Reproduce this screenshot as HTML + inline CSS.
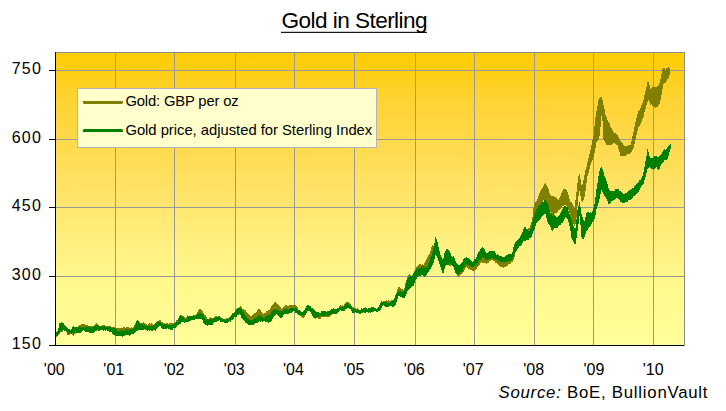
<!DOCTYPE html>
<html><head><meta charset="utf-8"><style>
html,body{margin:0;padding:0;background:#fff;width:726px;height:411px;overflow:hidden}
svg{display:block}
text{font-family:'Liberation Sans', Arial, sans-serif;fill:#000}
</style></head><body>
<svg width="726" height="411" viewBox="0 0 726 411">
<defs>
<linearGradient id="bg" x1="0" y1="0" x2="0" y2="1">
<stop offset="0" stop-color="#FFCC00"/>
<stop offset="0.164" stop-color="#FFD333"/>
<stop offset="0.334" stop-color="#FFDB50"/>
<stop offset="0.5" stop-color="#FFE56C"/>
<stop offset="0.67" stop-color="#FFF182"/>
<stop offset="0.795" stop-color="#FFF98D"/>
<stop offset="1" stop-color="#FFFF99"/>
</linearGradient>
<clipPath id="pc"><rect x="56" y="52" width="628" height="293"/></clipPath>
</defs>
<text x="354.6" y="27.6" text-anchor="middle" font-size="22.6" textLength="146" lengthAdjust="spacing">Gold in Sterling</text>
<rect x="281" y="31.8" width="146" height="1.1" fill="#000"/>
<rect x="55" y="52" width="630" height="293" fill="url(#bg)"/>
<g stroke="#999999" stroke-width="1" shape-rendering="crispEdges"><line x1="115.5" y1="52" x2="115.5" y2="345" /><line x1="174.5" y1="52" x2="174.5" y2="345" /><line x1="235.5" y1="52" x2="235.5" y2="345" /><line x1="294.5" y1="52" x2="294.5" y2="345" /><line x1="354.5" y1="52" x2="354.5" y2="345" /><line x1="415.5" y1="52" x2="415.5" y2="345" /><line x1="474.5" y1="52" x2="474.5" y2="345" /><line x1="534.5" y1="52" x2="534.5" y2="345" /><line x1="593.5" y1="52" x2="593.5" y2="345" /><line x1="653.5" y1="52" x2="653.5" y2="345" /><line x1="55" y1="70.5" x2="684" y2="70.5" /><line x1="55" y1="139.5" x2="684" y2="139.5" /><line x1="55" y1="207.5" x2="684" y2="207.5" /><line x1="55" y1="276.5" x2="684" y2="276.5" /></g>
<rect x="55.5" y="52.5" width="629" height="293" fill="none" stroke="#8c8c8c" stroke-width="1" shape-rendering="crispEdges"/>
<g clip-path="url(#pc)">
<polygon points="55.6,334.4 56.6,333.6 57.6,332.3 58.6,331.7 59.6,327.1 60.6,323.4 61.6,329.0 62.6,327.9 63.6,326.6 64.6,326.7 65.6,328.6 66.6,330.1 67.6,330.8 68.6,332.0 69.6,330.7 70.6,331.2 71.6,331.6 72.6,330.6 73.6,330.4 74.6,330.6 75.6,329.6 76.6,329.5 77.6,327.9 78.6,326.0 79.6,324.8 80.6,324.6 81.6,323.6 82.6,323.8 83.6,324.2 84.6,324.1 85.6,325.0 86.6,325.3 87.6,325.0 88.6,325.8 89.6,325.9 90.6,325.6 91.6,325.5 92.6,326.2 93.6,325.8 94.6,325.2 95.6,323.8 96.6,323.1 97.6,323.8 98.6,324.7 99.6,326.0 100.6,325.9 101.6,325.7 102.6,325.1 103.6,325.0 104.6,325.5 105.6,325.8 106.6,325.6 107.6,326.6 108.6,325.8 109.6,326.1 110.6,326.1 111.6,326.7 112.6,326.9 113.6,327.2 114.6,327.5 115.6,327.7 116.6,328.4 117.6,327.7 118.6,328.0 119.6,327.7 120.6,327.7 121.6,327.7 122.6,328.1 123.6,326.9 124.6,327.4 125.6,327.6 126.6,327.4 127.6,327.1 128.6,327.4 129.6,328.1 130.6,328.2 131.6,327.4 132.6,327.6 133.6,327.3 134.6,325.1 135.6,322.9 136.6,322.1 137.6,322.5 138.6,322.6 139.6,322.2 140.6,323.2 141.6,323.1 142.6,322.6 143.6,322.3 144.6,323.5 145.6,324.0 146.6,324.2 147.6,324.6 148.6,324.4 149.6,322.8 150.6,323.7 151.6,323.3 152.6,324.3 153.6,325.1 154.6,324.3 155.6,322.7 156.6,321.7 157.6,320.9 158.6,320.5 159.6,319.9 160.6,320.5 161.6,321.7 162.6,322.3 163.6,322.9 164.6,323.1 165.6,324.0 166.6,323.4 167.6,323.0 168.6,323.6 169.6,322.8 170.6,323.1 171.6,323.3 172.6,323.4 173.6,323.4 174.6,322.6 175.6,321.6 176.6,320.3 177.6,320.2 178.6,318.3 179.6,316.4 180.6,315.5 181.6,315.3 182.6,316.2 183.6,316.5 184.6,316.7 185.6,318.0 186.6,316.7 187.6,315.3 188.6,315.7 189.6,316.1 190.6,315.8 191.6,315.6 192.6,315.5 193.6,315.6 194.6,315.2 195.6,315.3 196.6,313.9 197.6,311.6 198.6,309.9 199.6,308.6 200.6,309.0 201.6,310.1 202.6,311.2 203.6,313.7 204.6,314.8 205.6,315.4 206.6,317.2 207.6,318.8 208.6,318.6 209.6,317.7 210.6,317.3 211.6,317.6 212.6,318.3 213.6,317.9 214.6,316.4 215.6,315.9 216.6,316.5 217.6,316.5 218.6,315.8 219.6,316.2 220.6,317.2 221.6,318.1 222.6,318.3 223.6,318.6 224.6,319.1 225.6,318.6 226.6,318.2 227.6,318.0 228.6,317.8 229.6,317.0 230.6,316.0 231.6,314.7 232.6,312.9 233.6,313.0 234.6,312.3 235.6,310.1 236.6,308.9 237.6,308.5 238.6,307.9 239.6,307.1 240.6,306.3 241.6,307.2 242.6,308.7 243.6,309.0 244.6,310.1 245.6,310.4 246.6,312.2 247.6,312.6 248.6,314.4 249.6,315.1 250.6,316.4 251.6,316.5 252.6,314.9 253.6,314.2 254.6,313.4 255.6,313.0 256.6,311.8 257.6,309.3 258.6,308.8 259.6,309.4 260.6,310.1 261.6,311.8 262.6,312.6 263.6,313.9 264.6,313.4 265.6,312.9 266.6,311.2 267.6,311.2 268.6,309.8 269.6,309.9 270.6,308.1 271.6,305.4 272.6,304.7 273.6,303.6 274.6,302.1 275.6,302.0 276.6,302.7 277.6,303.8 278.6,305.3 279.6,306.6 280.6,307.4 281.6,308.7 282.6,308.0 283.6,306.4 284.6,305.8 285.6,305.0 286.6,305.5 287.6,305.7 288.6,305.5 289.6,304.6 290.6,305.0 291.6,304.8 292.6,304.8 293.6,305.3 294.6,305.5 295.6,305.3 296.6,306.6 297.6,307.6 298.6,309.8 299.6,312.1 300.6,312.9 301.6,314.1 302.6,313.3 303.6,314.0 304.6,311.9 305.6,308.0 306.6,306.5 307.6,306.2 308.6,305.5 309.6,306.4 310.6,308.2 311.6,311.5 312.6,313.8 313.6,315.7 314.6,315.9 315.6,315.5 316.6,315.7 317.6,314.1 318.6,314.6 319.6,314.1 320.6,314.6 321.6,314.6 322.6,314.4 323.6,313.5 324.6,313.9 325.6,313.4 326.6,313.3 327.6,313.3 328.6,313.6 329.6,313.8 330.6,312.9 331.6,312.3 332.6,310.5 333.6,309.9 334.6,309.1 335.6,310.1 336.6,310.0 337.6,308.7 338.6,308.1 339.6,305.9 340.6,304.8 341.6,305.9 342.6,305.2 343.6,305.6 344.6,304.1 345.6,302.9 346.6,302.3 347.6,301.8 348.6,302.2 349.6,303.3 350.6,304.1 351.6,305.7 352.6,306.8 353.6,306.9 354.6,308.1 355.6,308.5 356.6,308.9 357.6,308.4 358.6,309.0 359.6,310.6 360.6,310.6 361.6,309.5 362.6,308.8 363.6,307.9 364.6,307.5 365.6,306.9 366.6,307.7 367.6,308.7 368.6,308.9 369.6,308.9 370.6,309.3 371.6,309.3 372.6,309.8 373.6,308.8 374.6,308.3 375.6,308.5 376.6,308.5 377.6,308.4 378.6,307.3 379.6,305.3 380.6,304.1 381.6,302.4 382.6,302.0 383.6,300.7 384.6,300.8 385.6,301.0 386.6,300.2 387.6,301.5 388.6,300.3 389.6,300.8 390.6,301.1 391.6,300.4 392.6,299.8 393.6,299.7 394.6,298.7 395.6,295.9 396.6,292.6 397.6,288.3 398.6,287.4 399.6,287.0 400.6,288.1 401.6,289.1 402.6,289.2 403.6,289.8 404.6,287.6 405.6,282.6 406.6,279.5 407.6,276.7 408.6,275.2 409.6,274.1 410.6,275.3 411.6,275.9 412.6,275.4 413.6,273.5 414.6,270.6 415.6,268.3 416.6,266.7 417.6,266.0 418.6,264.4 419.6,264.3 420.6,263.8 421.6,265.2 422.6,264.2 423.6,265.0 424.6,263.2 425.6,261.0 426.6,258.7 427.6,257.0 428.6,255.1 429.6,253.5 430.6,250.3 431.6,246.2 432.6,244.7 433.6,245.7 434.6,242.9 435.6,238.4 436.6,239.7 437.6,244.1 438.6,248.8 439.6,252.8 440.6,256.0 441.6,258.4 442.6,260.4 443.6,258.4 444.6,255.0 445.6,251.3 446.6,249.3 447.6,249.4 448.6,252.9 449.6,259.2 450.6,260.7 451.6,259.2 452.6,257.6 453.6,256.4 454.6,258.8 455.6,262.3 456.6,266.7 457.6,271.5 458.6,271.8 459.6,271.1 460.6,271.1 461.6,269.6 462.6,269.1 463.6,265.6 464.6,264.7 465.6,263.3 466.6,262.2 467.6,262.4 468.6,263.8 469.6,263.7 470.6,264.4 471.6,264.7 472.6,265.2 473.6,264.0 474.6,264.1 475.6,263.5 476.6,263.2 477.6,261.4 478.6,259.6 479.6,258.4 480.6,256.9 481.6,255.2 482.6,254.7 483.6,255.0 484.6,256.9 485.6,257.2 486.6,258.3 487.6,258.0 488.6,256.4 489.6,256.1 490.6,256.2 491.6,255.1 492.6,256.5 493.6,256.7 494.6,256.5 495.6,257.4 496.6,258.6 497.6,259.2 498.6,258.6 499.6,259.9 500.6,260.4 501.6,260.5 502.6,260.0 503.6,260.6 504.6,260.8 505.6,260.2 506.6,260.3 507.6,259.3 508.6,259.7 509.6,259.7 510.6,258.0 511.6,257.8 512.6,257.3 513.6,254.3 514.6,250.1 515.6,244.6 516.6,242.3 517.6,241.8 518.6,239.9 519.6,238.8 520.6,236.6 521.6,235.0 522.6,233.3 523.6,229.5 524.6,229.0 525.6,228.6 526.6,228.5 527.6,228.7 528.6,227.5 529.6,227.6 530.6,224.4 531.6,221.9 532.6,216.6 533.6,207.6 534.6,203.5 535.6,202.0 536.6,201.4 537.6,198.4 538.6,195.7 539.6,193.1 540.6,190.8 541.6,188.8 542.6,187.9 543.6,185.6 544.6,184.0 545.6,183.4 546.6,184.7 547.6,187.0 548.6,189.5 549.6,193.0 550.6,194.8 551.6,195.6 552.6,196.4 553.6,195.7 554.6,196.6 555.6,197.3 556.6,198.4 557.6,198.7 558.6,199.9 559.6,197.9 560.6,195.3 561.6,192.4 562.6,190.8 563.6,189.0 564.6,188.7 565.6,188.6 566.6,190.4 567.6,192.2 568.6,195.2 569.6,199.1 570.6,202.6 571.6,202.2 572.6,204.0 573.6,206.1 574.6,208.2 575.6,199.6 576.6,191.5 577.6,181.8 578.6,175.5 579.6,173.8 580.6,179.6 581.6,185.2 582.6,184.4 583.6,180.1 584.6,174.1 585.6,169.8 586.6,166.2 587.6,161.9 588.6,157.4 589.6,154.1 590.6,149.5 591.6,144.5 592.6,139.0 593.6,135.6 594.6,124.9 595.6,116.2 596.6,110.6 597.6,106.0 598.6,99.7 599.6,97.7 600.6,96.4 601.6,97.3 602.6,100.0 603.6,105.5 604.6,109.8 605.6,115.9 606.6,116.8 607.6,119.9 608.6,122.0 609.6,123.4 610.6,127.2 611.6,128.4 612.6,130.2 613.6,132.2 614.6,132.9 615.6,133.5 616.6,133.9 617.6,135.0 618.6,137.2 619.6,138.9 620.6,141.2 621.6,142.1 622.6,143.4 623.6,145.3 624.6,145.9 625.6,146.4 626.6,145.9 627.6,145.6 628.6,145.4 629.6,144.7 630.6,144.6 631.6,140.9 632.6,135.8 633.6,131.2 634.6,126.6 635.6,121.1 636.6,117.2 637.6,113.8 638.6,111.0 639.6,109.7 640.6,107.5 641.6,105.1 642.6,102.6 643.6,99.2 644.6,95.0 645.6,90.6 646.6,86.5 647.6,81.2 648.6,81.8 649.6,85.1 650.6,89.0 651.6,88.4 652.6,86.8 653.6,86.2 654.6,86.6 655.6,86.5 656.6,86.7 657.6,86.2 658.6,85.3 659.6,83.0 660.6,79.1 661.6,73.1 662.6,69.1 663.6,68.1 664.6,67.9 665.6,69.7 666.6,67.7 667.6,67.6 668.6,67.3 669.6,68.0 670.3,68.0 670.3,73.6 669.6,74.8 668.6,77.8 667.6,78.9 666.6,81.1 665.6,82.8 664.6,82.9 663.6,83.2 662.6,88.1 661.6,94.5 660.6,100.0 659.6,103.6 658.6,105.4 657.6,106.5 656.6,106.9 655.6,108.2 654.6,107.5 653.6,106.0 652.6,106.2 651.6,104.3 650.6,105.1 649.6,102.0 648.6,99.7 647.6,102.0 646.6,104.7 645.6,108.9 644.6,111.5 643.6,116.6 642.6,118.9 641.6,121.6 640.6,124.3 639.6,125.4 638.6,127.1 637.6,131.2 636.6,134.3 635.6,138.5 634.6,143.6 633.6,147.3 632.6,149.7 631.6,152.1 630.6,152.6 629.6,153.8 628.6,153.7 627.6,154.1 626.6,155.2 625.6,156.0 624.6,156.1 623.6,156.3 622.6,156.2 621.6,156.3 620.6,156.0 619.6,152.7 618.6,149.8 617.6,145.2 616.6,144.6 615.6,144.2 614.6,143.3 613.6,143.1 612.6,143.9 611.6,144.7 610.6,145.1 609.6,145.1 608.6,145.3 607.6,145.0 606.6,145.0 605.6,143.6 604.6,141.6 603.6,140.3 602.6,122.0 601.6,115.2 600.6,126.0 599.6,136.1 598.6,139.6 597.6,140.5 596.6,141.2 595.6,147.7 594.6,153.1 593.6,156.8 592.6,159.9 591.6,162.1 590.6,164.5 589.6,168.6 588.6,172.3 587.6,175.7 586.6,182.5 585.6,190.3 584.6,197.0 583.6,199.3 582.6,202.5 581.6,201.6 580.6,196.4 579.6,190.5 578.6,195.6 577.6,204.8 576.6,217.5 575.6,223.4 574.6,225.7 573.6,223.9 572.6,223.0 571.6,221.1 570.6,216.9 569.6,213.5 568.6,210.0 567.6,209.4 566.6,206.4 565.6,205.0 564.6,204.8 563.6,205.5 562.6,205.6 561.6,208.1 560.6,209.2 559.6,209.6 558.6,210.2 557.6,212.2 556.6,212.9 555.6,213.2 554.6,213.6 553.6,214.7 552.6,217.0 551.6,215.2 550.6,212.6 549.6,210.1 548.6,206.5 547.6,204.2 546.6,201.7 545.6,199.9 544.6,199.5 543.6,200.0 542.6,201.8 541.6,203.4 540.6,205.4 539.6,208.2 538.6,210.1 537.6,211.5 536.6,212.7 535.6,214.2 534.6,214.2 533.6,217.7 532.6,222.7 531.6,227.6 530.6,230.0 529.6,233.1 528.6,232.6 527.6,234.6 526.6,238.0 525.6,240.5 524.6,238.9 523.6,239.8 522.6,242.1 521.6,242.6 520.6,244.1 519.6,245.3 518.6,246.7 517.6,248.1 516.6,248.9 515.6,251.6 514.6,256.3 513.6,260.3 512.6,261.5 511.6,262.3 510.6,263.6 509.6,264.3 508.6,264.3 507.6,266.0 506.6,266.1 505.6,266.8 504.6,267.2 503.6,268.3 502.6,266.9 501.6,267.3 500.6,267.0 499.6,266.2 498.6,264.7 497.6,263.6 496.6,263.5 495.6,263.2 494.6,261.2 493.6,261.4 492.6,260.1 491.6,260.0 490.6,260.6 489.6,261.3 488.6,263.0 487.6,263.2 486.6,263.7 485.6,263.5 484.6,263.2 483.6,263.3 482.6,263.0 481.6,262.3 480.6,262.7 479.6,264.8 478.6,266.1 477.6,267.0 476.6,269.0 475.6,270.0 474.6,270.6 473.6,270.6 472.6,270.6 471.6,270.5 470.6,270.1 469.6,268.5 468.6,269.2 467.6,268.2 466.6,267.1 465.6,268.2 464.6,270.2 463.6,272.2 462.6,272.5 461.6,274.4 460.6,275.1 459.6,275.6 458.6,277.0 457.6,275.7 456.6,274.4 455.6,271.9 454.6,269.0 453.6,267.2 452.6,265.7 451.6,264.8 450.6,265.5 449.6,265.7 448.6,265.5 447.6,263.8 446.6,263.4 445.6,265.2 444.6,267.1 443.6,270.9 442.6,273.2 441.6,269.5 440.6,266.0 439.6,262.8 438.6,259.9 437.6,255.7 436.6,254.3 435.6,253.7 434.6,257.3 433.6,259.5 432.6,258.3 431.6,256.9 430.6,259.4 429.6,262.5 428.6,265.6 427.6,267.2 426.6,268.5 425.6,269.1 424.6,269.5 423.6,268.0 422.6,268.3 421.6,269.2 420.6,269.1 419.6,269.1 418.6,269.9 417.6,269.4 416.6,270.6 415.6,271.7 414.6,273.6 413.6,276.0 412.6,282.4 411.6,285.0 410.6,280.5 409.6,278.0 408.6,278.7 407.6,280.2 406.6,283.5 405.6,287.3 404.6,291.2 403.6,293.9 402.6,293.8 401.6,293.3 400.6,293.5 399.6,293.2 398.6,292.9 397.6,294.7 396.6,300.2 395.6,303.6 394.6,304.1 393.6,305.5 392.6,304.3 391.6,303.6 390.6,303.7 389.6,304.4 388.6,305.5 387.6,304.7 386.6,305.3 385.6,304.3 384.6,304.3 383.6,304.5 382.6,304.9 381.6,307.0 380.6,308.7 379.6,310.9 378.6,310.3 377.6,310.9 376.6,311.0 375.6,311.0 374.6,310.8 373.6,311.7 372.6,312.5 371.6,312.2 370.6,311.8 369.6,311.4 368.6,311.6 367.6,311.2 366.6,311.0 365.6,310.5 364.6,310.0 363.6,310.4 362.6,311.3 361.6,312.3 360.6,313.1 359.6,313.1 358.6,312.7 357.6,311.4 356.6,312.3 355.6,311.7 354.6,311.2 353.6,311.2 352.6,310.4 351.6,308.5 350.6,307.7 349.6,306.0 348.6,305.3 347.6,305.7 346.6,306.0 345.6,307.2 344.6,308.1 343.6,308.4 342.6,308.3 341.6,308.4 340.6,308.8 339.6,309.4 338.6,311.0 337.6,313.0 336.6,313.2 335.6,313.7 334.6,313.3 333.6,313.3 332.6,314.1 331.6,315.1 330.6,316.3 329.6,317.4 328.6,317.3 327.6,317.1 326.6,316.9 325.6,317.0 324.6,316.9 323.6,317.4 322.6,317.0 321.6,317.1 320.6,318.6 319.6,318.8 318.6,318.9 317.6,317.8 316.6,318.2 315.6,319.0 314.6,318.4 313.6,318.3 312.6,316.6 311.6,314.3 310.6,311.4 309.6,309.9 308.6,309.7 307.6,309.6 306.6,312.6 305.6,314.8 304.6,316.6 303.6,318.5 302.6,317.8 301.6,317.2 300.6,316.5 299.6,315.0 298.6,312.3 297.6,311.1 296.6,310.4 295.6,310.0 294.6,309.3 293.6,309.8 292.6,309.9 291.6,310.9 290.6,310.2 289.6,311.5 288.6,311.5 287.6,311.0 286.6,311.6 285.6,310.7 284.6,311.3 283.6,311.4 282.6,312.2 281.6,313.0 280.6,312.3 279.6,313.0 278.6,311.5 277.6,312.4 276.6,311.9 275.6,311.1 274.6,311.3 273.6,312.7 272.6,313.5 271.6,313.5 270.6,315.3 269.6,316.9 268.6,316.2 267.6,317.0 266.6,318.2 265.6,318.6 264.6,319.6 263.6,319.9 262.6,319.3 261.6,318.4 260.6,318.0 259.6,316.8 258.6,318.4 257.6,318.8 256.6,318.8 255.6,320.2 254.6,321.3 253.6,322.1 252.6,322.1 251.6,322.1 250.6,322.7 249.6,321.5 248.6,321.9 247.6,320.0 246.6,318.7 245.6,318.6 244.6,317.0 243.6,314.3 242.6,312.0 241.6,310.8 240.6,309.2 239.6,309.8 238.6,310.7 237.6,311.0 236.6,311.5 235.6,313.4 234.6,315.6 233.6,315.9 232.6,315.5 231.6,317.2 230.6,318.5 229.6,319.5 228.6,320.3 227.6,321.4 226.6,320.8 225.6,321.1 224.6,321.8 223.6,321.1 222.6,321.5 221.6,320.9 220.6,319.7 219.6,318.8 218.6,318.3 217.6,319.2 216.6,319.1 215.6,319.0 214.6,320.1 213.6,320.4 212.6,321.1 211.6,320.9 210.6,321.5 209.6,321.2 208.6,321.3 207.6,321.3 206.6,320.7 205.6,320.1 204.6,318.9 203.6,317.2 202.6,317.0 201.6,316.3 200.6,314.8 199.6,314.8 198.6,315.3 197.6,315.9 196.6,317.4 195.6,317.8 194.6,317.7 193.6,318.4 192.6,318.0 191.6,318.1 190.6,318.7 189.6,318.9 188.6,318.2 187.6,318.4 186.6,320.2 185.6,320.9 184.6,319.9 183.6,320.1 182.6,318.7 181.6,319.4 180.6,321.3 179.6,323.2 178.6,323.6 177.6,323.0 176.6,324.2 175.6,325.3 174.6,325.1 173.6,326.1 172.6,326.4 171.6,327.2 170.6,326.7 169.6,326.8 168.6,327.1 167.6,327.0 166.6,326.5 165.6,326.5 164.6,326.6 163.6,325.8 162.6,325.9 161.6,324.9 160.6,324.5 159.6,324.0 158.6,323.2 157.6,323.8 156.6,324.2 155.6,325.2 154.6,326.8 153.6,327.6 152.6,327.0 151.6,327.2 150.6,327.9 149.6,328.4 148.6,327.3 147.6,327.8 146.6,327.2 145.6,326.5 144.6,326.0 143.6,326.5 142.6,326.2 141.6,325.6 140.6,325.7 139.6,327.1 138.6,328.0 137.6,328.6 136.6,330.3 135.6,330.0 134.6,330.3 133.6,330.4 132.6,331.4 131.6,331.6 130.6,330.9 129.6,331.1 128.6,331.8 127.6,331.4 126.6,331.6 125.6,332.2 124.6,331.9 123.6,332.8 122.6,331.6 121.6,333.1 120.6,333.3 119.6,333.5 118.6,331.9 117.6,331.3 116.6,332.0 115.6,330.8 114.6,330.2 113.6,329.7 112.6,330.4 111.6,329.2 110.6,329.0 109.6,328.6 108.6,329.0 107.6,329.1 106.6,328.7 105.6,329.3 104.6,328.2 103.6,328.5 102.6,327.7 101.6,328.8 100.6,328.4 99.6,328.5 98.6,328.4 97.6,327.7 96.6,328.3 95.6,328.7 94.6,329.0 93.6,328.3 92.6,328.7 91.6,328.9 90.6,329.8 89.6,329.0 88.6,328.8 87.6,329.5 86.6,328.3 85.6,328.3 84.6,329.6 83.6,328.6 82.6,328.8 81.6,329.4 80.6,329.2 79.6,328.9 78.6,329.5 77.6,331.9 76.6,333.4 75.6,333.5 74.6,334.3 73.6,335.9 72.6,335.3 71.6,334.4 70.6,333.9 69.6,334.9 68.6,335.3 67.6,335.0 66.6,332.6 65.6,331.4 64.6,329.2 63.6,330.3 62.6,331.7 61.6,332.5 60.6,332.2 59.6,333.6 58.6,335.2 57.6,336.4 56.6,337.0 55.6,338.3" fill="#808000" shape-rendering="crispEdges"/>
<polygon points="55.6,332.0 56.6,331.7 57.6,330.4 58.6,327.7 59.6,322.9 60.6,322.8 61.6,322.2 62.6,323.2 63.6,323.5 64.6,325.1 65.6,326.5 66.6,327.4 67.6,328.1 68.6,328.6 69.6,329.2 70.6,330.3 71.6,329.1 72.6,327.2 73.6,325.9 74.6,326.6 75.6,326.9 76.6,326.5 77.6,327.3 78.6,327.5 79.6,326.8 80.6,327.0 81.6,327.6 82.6,326.9 83.6,327.4 84.6,327.7 85.6,327.4 86.6,326.3 87.6,326.8 88.6,326.4 89.6,326.7 90.6,326.7 91.6,327.6 92.6,326.7 93.6,326.8 94.6,325.9 95.6,326.5 96.6,325.2 97.6,325.1 98.6,326.3 99.6,326.4 100.6,326.6 101.6,326.2 102.6,325.7 103.6,326.7 104.6,326.1 105.6,327.4 106.6,326.7 107.6,327.1 108.6,327.0 109.6,326.5 110.6,326.6 111.6,328.0 112.6,328.1 113.6,328.2 114.6,327.9 115.6,328.3 116.6,329.1 117.6,330.7 118.6,331.2 119.6,331.1 120.6,331.0 121.6,330.3 122.6,330.0 123.6,330.8 124.6,330.0 125.6,329.1 126.6,330.0 127.6,329.4 128.6,330.0 129.6,329.8 130.6,329.3 131.6,329.1 132.6,329.2 133.6,327.8 134.6,327.3 135.6,324.8 136.6,320.1 137.6,320.2 138.6,321.4 139.6,323.1 140.6,324.3 141.6,323.7 142.6,324.4 143.6,324.7 144.6,324.5 145.6,324.6 146.6,326.1 147.6,326.1 148.6,326.3 149.6,326.4 150.6,326.1 151.6,325.9 152.6,325.8 153.6,324.9 154.6,324.6 155.6,322.8 156.6,322.5 157.6,321.8 158.6,321.2 159.6,321.7 160.6,322.0 161.6,323.2 162.6,323.9 163.6,323.9 164.6,323.8 165.6,324.3 166.6,324.3 167.6,324.8 168.6,325.2 169.6,325.1 170.6,324.9 171.6,325.0 172.6,324.7 173.6,323.7 174.6,323.5 175.6,323.2 176.6,322.2 177.6,322.1 178.6,318.4 179.6,315.4 180.6,315.3 181.6,315.9 182.6,316.5 183.6,318.1 184.6,318.6 185.6,318.6 186.6,318.6 187.6,316.8 188.6,317.2 189.6,316.2 190.6,315.9 191.6,316.2 192.6,316.5 193.6,315.3 194.6,315.6 195.6,316.4 196.6,314.8 197.6,314.3 198.6,313.0 199.6,312.9 200.6,313.3 201.6,314.0 202.6,314.4 203.6,315.0 204.6,317.5 205.6,319.1 206.6,318.7 207.6,319.5 208.6,320.1 209.6,318.7 210.6,318.8 211.6,319.1 212.6,318.9 213.6,318.3 214.6,318.1 215.6,316.8 216.6,316.4 217.6,317.0 218.6,316.1 219.6,317.4 220.6,317.7 221.6,318.5 222.6,318.6 223.6,319.6 224.6,318.9 225.6,319.7 226.6,318.6 227.6,319.6 228.6,318.6 229.6,317.9 230.6,316.4 231.6,315.4 232.6,313.7 233.6,312.9 234.6,312.9 235.6,311.2 236.6,309.2 237.6,308.3 238.6,308.3 239.6,307.9 240.6,307.6 241.6,308.8 242.6,311.1 243.6,312.2 244.6,314.1 245.6,316.0 246.6,317.3 247.6,318.2 248.6,319.0 249.6,320.0 250.6,319.8 251.6,320.5 252.6,320.3 253.6,319.1 254.6,318.4 255.6,318.2 256.6,317.7 257.6,316.0 258.6,315.1 259.6,314.8 260.6,316.3 261.6,315.9 262.6,317.5 263.6,317.9 264.6,317.5 265.6,316.4 266.6,316.3 267.6,315.4 268.6,315.4 269.6,314.7 270.6,313.8 271.6,312.2 272.6,311.4 273.6,309.6 274.6,309.2 275.6,309.9 276.6,309.7 277.6,309.6 278.6,310.3 279.6,310.7 280.6,310.5 281.6,310.8 282.6,311.2 283.6,309.7 284.6,309.1 285.6,308.9 286.6,308.6 287.6,309.3 288.6,309.6 289.6,309.0 290.6,308.2 291.6,308.0 292.6,308.4 293.6,307.5 294.6,307.5 295.6,307.8 296.6,308.1 297.6,308.9 298.6,310.1 299.6,310.2 300.6,311.4 301.6,311.7 302.6,312.3 303.6,311.0 304.6,309.8 305.6,307.3 306.6,305.8 307.6,304.6 308.6,305.6 309.6,306.0 310.6,306.0 311.6,307.8 312.6,308.5 313.6,309.3 314.6,310.0 315.6,311.6 316.6,312.5 317.6,312.0 318.6,312.0 319.6,312.9 320.6,312.5 321.6,310.9 322.6,311.3 323.6,311.0 324.6,311.4 325.6,310.8 326.6,311.6 327.6,310.6 328.6,310.5 329.6,311.5 330.6,310.0 331.6,309.1 332.6,308.6 333.6,307.9 334.6,308.7 335.6,308.6 336.6,308.7 337.6,308.0 338.6,307.8 339.6,307.4 340.6,307.0 341.6,306.5 342.6,306.8 343.6,306.9 344.6,305.5 345.6,304.4 346.6,303.3 347.6,303.3 348.6,303.6 349.6,304.8 350.6,304.8 351.6,306.2 352.6,308.2 353.6,308.8 354.6,309.1 355.6,309.2 356.6,309.7 357.6,309.9 358.6,309.8 359.6,310.4 360.6,310.3 361.6,308.2 362.6,308.9 363.6,308.1 364.6,308.5 365.6,308.1 366.6,308.3 367.6,308.8 368.6,307.7 369.6,307.5 370.6,307.8 371.6,307.2 372.6,307.0 373.6,307.5 374.6,308.0 375.6,307.8 376.6,308.7 377.6,308.3 378.6,306.4 379.6,304.9 380.6,302.3 381.6,301.3 382.6,302.0 383.6,301.8 384.6,301.9 385.6,302.3 386.6,302.5 387.6,303.4 388.6,302.9 389.6,302.5 390.6,302.0 391.6,301.6 392.6,300.4 393.6,299.7 394.6,297.6 395.6,295.2 396.6,293.1 397.6,292.1 398.6,291.0 399.6,290.7 400.6,291.4 401.6,291.6 402.6,291.9 403.6,291.6 404.6,289.3 405.6,285.7 406.6,282.0 407.6,279.2 408.6,276.7 409.6,276.7 410.6,276.4 411.6,275.6 412.6,274.4 413.6,272.8 414.6,271.5 415.6,269.3 416.6,268.9 417.6,268.4 418.6,268.4 419.6,267.5 420.6,267.5 421.6,266.3 422.6,266.9 423.6,265.9 424.6,267.3 425.6,267.8 426.6,266.9 427.6,266.3 428.6,263.2 429.6,261.1 430.6,257.1 431.6,255.4 432.6,251.3 433.6,247.6 434.6,242.4 435.6,236.3 436.6,239.4 437.6,242.4 438.6,247.7 439.6,251.3 440.6,255.8 441.6,257.3 442.6,259.2 443.6,257.4 444.6,253.0 445.6,251.1 446.6,249.4 447.6,249.2 448.6,250.1 449.6,251.4 450.6,253.5 451.6,256.4 452.6,257.2 453.6,255.4 454.6,258.0 455.6,261.3 456.6,263.5 457.6,264.1 458.6,264.9 459.6,264.7 460.6,263.4 461.6,262.8 462.6,261.6 463.6,259.1 464.6,258.2 465.6,258.1 466.6,257.2 467.6,258.0 468.6,257.7 469.6,259.5 470.6,260.1 471.6,260.6 472.6,261.8 473.6,260.4 474.6,259.0 475.6,258.6 476.6,256.7 477.6,253.5 478.6,252.2 479.6,250.6 480.6,248.8 481.6,247.8 482.6,246.8 483.6,248.0 484.6,249.2 485.6,252.0 486.6,253.0 487.6,253.2 488.6,252.2 489.6,250.5 490.6,250.7 491.6,251.3 492.6,250.6 493.6,251.2 494.6,251.3 495.6,253.4 496.6,254.9 497.6,254.1 498.6,254.7 499.6,255.8 500.6,255.7 501.6,255.9 502.6,257.4 503.6,256.6 504.6,256.9 505.6,255.6 506.6,254.4 507.6,255.0 508.6,253.8 509.6,253.9 510.6,254.0 511.6,253.7 512.6,252.1 513.6,246.3 514.6,244.1 515.6,241.9 516.6,241.1 517.6,240.0 518.6,238.7 519.6,237.5 520.6,235.7 521.6,233.8 522.6,231.9 523.6,228.9 524.6,227.0 525.6,227.2 526.6,228.9 527.6,230.6 528.6,231.5 529.6,230.5 530.6,228.9 531.6,226.1 532.6,221.5 533.6,218.1 534.6,214.0 535.6,211.2 536.6,209.0 537.6,207.4 538.6,205.8 539.6,205.3 540.6,203.9 541.6,202.7 542.6,202.0 543.6,201.6 544.6,199.4 545.6,200.1 546.6,202.2 547.6,203.5 548.6,206.4 549.6,210.7 550.6,213.3 551.6,214.3 552.6,215.8 553.6,214.2 554.6,215.2 555.6,216.6 556.6,217.4 557.6,216.9 558.6,216.0 559.6,215.2 560.6,212.7 561.6,210.5 562.6,208.3 563.6,207.2 564.6,205.4 565.6,206.3 566.6,206.8 567.6,207.3 568.6,211.1 569.6,214.5 570.6,217.0 571.6,220.8 572.6,223.4 573.6,226.1 574.6,228.4 575.6,227.8 576.6,217.9 577.6,209.6 578.6,205.5 579.6,201.5 580.6,207.7 581.6,214.9 582.6,217.5 583.6,220.2 584.6,220.7 585.6,216.5 586.6,213.2 587.6,211.5 588.6,212.5 589.6,212.7 590.6,211.8 591.6,212.9 592.6,211.0 593.6,207.5 594.6,204.0 595.6,196.7 596.6,187.8 597.6,182.1 598.6,175.8 599.6,170.7 600.6,167.8 601.6,166.6 602.6,168.9 603.6,172.6 604.6,175.9 605.6,177.9 606.6,181.7 607.6,184.5 608.6,188.3 609.6,189.7 610.6,191.0 611.6,190.9 612.6,191.1 613.6,190.9 614.6,190.5 615.6,189.1 616.6,188.8 617.6,188.5 618.6,188.6 619.6,190.7 620.6,191.0 621.6,192.2 622.6,192.8 623.6,193.8 624.6,194.4 625.6,193.0 626.6,193.3 627.6,191.8 628.6,190.9 629.6,189.8 630.6,189.6 631.6,188.4 632.6,187.8 633.6,187.5 634.6,186.2 635.6,184.8 636.6,183.6 637.6,182.6 638.6,181.7 639.6,179.7 640.6,179.5 641.6,177.3 642.6,175.5 643.6,171.6 644.6,166.2 645.6,161.0 646.6,155.2 647.6,148.8 648.6,152.8 649.6,156.5 650.6,157.7 651.6,158.5 652.6,157.5 653.6,156.6 654.6,156.1 655.6,156.4 656.6,156.4 657.6,157.6 658.6,156.5 659.6,156.4 660.6,155.2 661.6,153.5 662.6,151.7 663.6,149.5 664.6,149.1 665.6,149.8 666.6,148.8 667.6,147.3 668.6,145.5 669.6,145.3 670.6,144.2 670.6,148.3 669.6,151.3 668.6,155.8 667.6,158.9 666.6,159.7 665.6,159.8 664.6,160.4 663.6,161.4 662.6,162.9 661.6,163.4 660.6,165.9 659.6,168.4 658.6,170.0 657.6,168.9 656.6,166.8 655.6,168.1 654.6,168.8 653.6,170.4 652.6,169.3 651.6,169.0 650.6,168.3 649.6,167.1 648.6,167.6 647.6,169.0 646.6,172.9 645.6,176.6 644.6,179.6 643.6,184.0 642.6,184.5 641.6,185.6 640.6,188.2 639.6,190.1 638.6,192.0 637.6,192.6 636.6,193.7 635.6,194.9 634.6,195.8 633.6,196.3 632.6,197.7 631.6,198.9 630.6,200.1 629.6,200.0 628.6,200.1 627.6,201.7 626.6,202.1 625.6,202.1 624.6,203.4 623.6,203.5 622.6,203.1 621.6,202.0 620.6,201.9 619.6,200.3 618.6,198.7 617.6,198.3 616.6,197.8 615.6,198.8 614.6,199.8 613.6,199.4 612.6,201.2 611.6,200.9 610.6,203.2 609.6,204.5 608.6,204.4 607.6,201.0 606.6,198.8 605.6,197.2 604.6,196.2 603.6,194.6 602.6,192.5 601.6,190.0 600.6,193.5 599.6,198.2 598.6,202.9 597.6,206.1 596.6,208.3 595.6,214.7 594.6,219.3 593.6,220.8 592.6,222.3 591.6,223.5 590.6,225.5 589.6,227.0 588.6,227.7 587.6,229.4 586.6,230.7 585.6,233.9 584.6,236.6 583.6,238.7 582.6,238.6 581.6,238.1 580.6,225.9 579.6,215.4 578.6,223.7 577.6,230.4 576.6,237.1 575.6,243.4 574.6,244.7 573.6,242.1 572.6,240.2 571.6,238.7 570.6,231.8 569.6,226.3 568.6,222.5 567.6,218.7 566.6,217.9 565.6,217.0 564.6,218.9 563.6,221.0 562.6,222.6 561.6,223.1 560.6,225.0 559.6,224.9 558.6,225.7 557.6,227.7 556.6,228.3 555.6,227.7 554.6,227.7 553.6,228.3 552.6,231.0 551.6,229.9 550.6,227.2 549.6,225.4 548.6,223.8 547.6,222.4 546.6,218.6 545.6,214.2 544.6,214.3 543.6,215.0 542.6,216.2 541.6,217.3 540.6,218.8 539.6,220.0 538.6,220.7 537.6,222.4 536.6,222.6 535.6,225.5 534.6,229.0 533.6,230.8 532.6,233.4 531.6,236.5 530.6,237.6 529.6,238.2 528.6,240.0 527.6,240.3 526.6,240.3 525.6,241.0 524.6,240.5 523.6,241.3 522.6,242.7 521.6,244.7 520.6,245.8 519.6,246.2 518.6,248.0 517.6,249.3 516.6,251.0 515.6,252.0 514.6,254.3 513.6,256.3 512.6,259.2 511.6,260.3 510.6,261.1 509.6,261.4 508.6,260.9 507.6,260.5 506.6,262.1 505.6,261.5 504.6,263.1 503.6,261.8 502.6,262.6 501.6,261.6 500.6,261.7 499.6,261.1 498.6,260.9 497.6,260.5 496.6,260.0 495.6,260.4 494.6,259.3 493.6,258.8 492.6,258.5 491.6,258.3 490.6,258.7 489.6,259.0 488.6,258.4 487.6,259.7 486.6,260.0 485.6,260.0 484.6,257.7 483.6,257.7 482.6,256.7 481.6,257.3 480.6,259.7 479.6,260.0 478.6,261.8 477.6,263.0 476.6,264.9 475.6,265.4 474.6,266.0 473.6,267.1 472.6,267.1 471.6,267.1 470.6,266.3 469.6,266.3 468.6,265.5 467.6,265.1 466.6,264.4 465.6,265.0 464.6,266.7 463.6,268.0 462.6,271.2 461.6,272.1 460.6,272.3 459.6,273.8 458.6,273.8 457.6,275.5 456.6,274.6 455.6,273.1 454.6,269.8 453.6,267.5 452.6,266.5 451.6,264.9 450.6,263.6 449.6,263.2 448.6,265.4 447.6,265.5 446.6,264.9 445.6,266.2 444.6,268.6 443.6,272.6 442.6,273.2 441.6,270.3 440.6,267.4 439.6,264.1 438.6,261.0 437.6,257.8 436.6,255.8 435.6,254.4 434.6,259.0 433.6,262.8 432.6,264.6 431.6,267.4 430.6,268.5 429.6,270.2 428.6,272.0 427.6,273.0 426.6,275.2 425.6,276.2 424.6,277.2 423.6,276.5 422.6,275.2 421.6,275.3 420.6,276.1 419.6,275.7 418.6,276.0 417.6,277.1 416.6,278.8 415.6,280.0 414.6,283.2 413.6,285.6 412.6,286.1 411.6,286.9 410.6,288.2 409.6,288.4 408.6,289.8 407.6,291.2 406.6,293.5 405.6,295.7 404.6,297.9 403.6,298.3 402.6,298.1 401.6,297.4 400.6,297.1 399.6,296.2 398.6,296.2 397.6,298.5 396.6,302.1 395.6,304.9 394.6,306.1 393.6,307.0 392.6,306.6 391.6,306.2 390.6,306.2 389.6,306.1 388.6,307.1 387.6,307.6 386.6,306.6 385.6,307.1 384.6,306.0 383.6,304.9 382.6,305.6 381.6,307.9 380.6,309.6 379.6,311.5 378.6,311.0 377.6,311.7 376.6,312.0 375.6,311.1 374.6,311.1 373.6,311.4 372.6,311.5 371.6,311.7 370.6,312.6 369.6,312.2 368.6,312.8 367.6,312.0 366.6,311.5 365.6,312.8 364.6,312.7 363.6,312.1 362.6,312.5 361.6,312.8 360.6,314.4 359.6,314.2 358.6,313.2 357.6,312.6 356.6,313.3 355.6,312.2 354.6,313.3 353.6,313.1 352.6,313.2 351.6,311.2 350.6,309.3 349.6,308.8 348.6,307.5 347.6,308.4 346.6,308.6 345.6,309.2 344.6,310.5 343.6,310.5 342.6,310.8 341.6,310.6 340.6,310.3 339.6,311.0 338.6,312.4 337.6,313.2 336.6,313.5 335.6,314.2 334.6,313.9 333.6,313.7 332.6,314.1 331.6,313.5 330.6,314.3 329.6,315.3 328.6,316.2 327.6,315.7 326.6,315.4 325.6,315.7 324.6,316.5 323.6,316.2 322.6,316.1 321.6,316.2 320.6,316.0 319.6,316.7 318.6,316.7 317.6,316.5 316.6,317.3 315.6,317.6 314.6,318.3 313.6,316.6 312.6,315.8 311.6,313.9 310.6,312.1 309.6,310.7 308.6,310.7 307.6,310.6 306.6,313.1 305.6,315.4 304.6,314.4 303.6,315.7 302.6,314.8 301.6,315.3 300.6,315.9 299.6,314.7 298.6,315.1 297.6,313.8 296.6,312.7 295.6,312.8 294.6,311.4 293.6,311.3 292.6,311.6 291.6,312.5 290.6,312.6 289.6,313.4 288.6,313.6 287.6,314.4 286.6,314.5 285.6,314.1 284.6,314.1 283.6,315.1 282.6,316.9 281.6,318.4 280.6,318.1 279.6,317.4 278.6,316.1 277.6,315.6 276.6,314.1 275.6,315.1 274.6,315.7 273.6,317.1 272.6,319.1 271.6,320.7 270.6,321.5 269.6,322.0 268.6,322.6 267.6,322.0 266.6,322.2 265.6,321.9 264.6,321.5 263.6,320.9 262.6,321.6 261.6,320.9 260.6,321.7 259.6,321.0 258.6,322.1 257.6,322.7 256.6,322.8 255.6,323.1 254.6,323.5 253.6,324.8 252.6,325.2 251.6,324.9 250.6,325.3 249.6,325.0 248.6,325.5 247.6,324.6 246.6,323.5 245.6,322.7 244.6,321.1 243.6,320.2 242.6,319.2 241.6,318.0 240.6,315.2 239.6,313.7 238.6,315.0 237.6,314.9 236.6,316.7 235.6,317.0 234.6,317.3 233.6,318.7 232.6,319.9 231.6,319.7 230.6,321.7 229.6,321.3 228.6,321.5 227.6,323.0 226.6,322.7 225.6,322.6 224.6,322.8 223.6,322.1 222.6,322.5 221.6,322.0 220.6,321.8 219.6,320.3 218.6,320.7 217.6,320.5 216.6,321.5 215.6,322.2 214.6,322.0 213.6,323.2 212.6,324.6 211.6,324.5 210.6,324.8 209.6,325.5 208.6,325.4 207.6,325.8 206.6,324.6 205.6,324.8 204.6,323.8 203.6,322.9 202.6,320.4 201.6,319.0 200.6,318.6 199.6,319.3 198.6,319.4 197.6,319.3 196.6,319.1 195.6,319.2 194.6,320.1 193.6,319.6 192.6,320.2 191.6,319.8 190.6,320.7 189.6,321.0 188.6,321.6 187.6,321.9 186.6,322.4 185.6,322.3 184.6,323.2 183.6,322.3 182.6,321.9 181.6,322.2 180.6,323.7 179.6,323.8 178.6,325.2 177.6,325.3 176.6,326.7 175.6,328.4 174.6,328.4 173.6,328.4 172.6,329.5 171.6,329.5 170.6,330.2 169.6,329.3 168.6,328.6 167.6,328.3 166.6,329.3 165.6,328.6 164.6,328.6 163.6,329.2 162.6,328.6 161.6,327.8 160.6,326.2 159.6,326.0 158.6,326.6 157.6,327.7 156.6,329.0 155.6,330.7 154.6,330.5 153.6,329.7 152.6,330.5 151.6,330.6 150.6,330.3 149.6,330.7 148.6,330.3 147.6,331.0 146.6,330.3 145.6,330.4 144.6,329.4 143.6,329.7 142.6,329.5 141.6,329.8 140.6,330.0 139.6,329.6 138.6,329.5 137.6,330.5 136.6,331.0 135.6,331.9 134.6,332.8 133.6,333.9 132.6,333.9 131.6,334.1 130.6,335.2 129.6,335.6 128.6,335.0 127.6,335.0 126.6,335.4 125.6,334.9 124.6,335.5 123.6,336.2 122.6,336.9 121.6,335.7 120.6,335.6 119.6,336.1 118.6,335.8 117.6,336.5 116.6,335.9 115.6,336.2 114.6,335.1 113.6,335.0 112.6,334.4 111.6,332.4 110.6,332.1 109.6,332.3 108.6,331.2 107.6,331.5 106.6,330.4 105.6,330.7 104.6,330.0 103.6,331.2 102.6,330.0 101.6,330.2 100.6,330.4 99.6,331.4 98.6,331.1 97.6,330.0 96.6,330.8 95.6,331.0 94.6,331.7 93.6,332.6 92.6,332.5 91.6,333.3 90.6,333.1 89.6,333.2 88.6,331.7 87.6,332.2 86.6,332.3 85.6,332.1 84.6,330.6 83.6,330.4 82.6,331.2 81.6,332.2 80.6,332.9 79.6,333.5 78.6,333.4 77.6,332.7 76.6,332.8 75.6,331.3 74.6,332.6 73.6,333.2 72.6,333.2 71.6,333.6 70.6,333.5 69.6,332.9 68.6,334.1 67.6,332.8 66.6,331.6 65.6,330.4 64.6,330.8 63.6,329.5 62.6,330.3 61.6,330.4 60.6,332.0 59.6,333.4 58.6,334.1 57.6,335.6 56.6,336.3 55.6,336.3" fill="#008000" shape-rendering="crispEdges"/>
</g>
<g stroke="#000" stroke-width="1" shape-rendering="crispEdges">
<line x1="55.5" y1="52" x2="55.5" y2="346"/>
<line x1="55" y1="345.5" x2="684" y2="345.5"/>
<line x1="49" y1="70.5" x2="56" y2="70.5" /><line x1="49" y1="139.5" x2="56" y2="139.5" /><line x1="49" y1="207.5" x2="56" y2="207.5" /><line x1="49" y1="276.5" x2="56" y2="276.5" /><line x1="49" y1="345.5" x2="56" y2="345.5" />
</g>
<g font-size="16"><text x="40.8" y="74" text-anchor="end" textLength="29" lengthAdjust="spacing">750</text><text x="40.8" y="143" text-anchor="end" textLength="29" lengthAdjust="spacing">600</text><text x="40.8" y="211" text-anchor="end" textLength="29" lengthAdjust="spacing">450</text><text x="40.8" y="280" text-anchor="end" textLength="29" lengthAdjust="spacing">300</text><text x="40.8" y="349" text-anchor="end" textLength="29" lengthAdjust="spacing">150</text><text x="54.3" y="375" text-anchor="middle">'00</text><text x="113.8" y="375" text-anchor="middle">'01</text><text x="174.1" y="375" text-anchor="middle">'02</text><text x="234.3" y="375" text-anchor="middle">'03</text><text x="293.4" y="375" text-anchor="middle">'04</text><text x="354" y="375" text-anchor="middle">'05</text><text x="414.3" y="375" text-anchor="middle">'06</text><text x="473.2" y="375" text-anchor="middle">'07</text><text x="533.7" y="375" text-anchor="middle">'08</text><text x="593.9" y="375" text-anchor="middle">'09</text><text x="653.2" y="375" text-anchor="middle">'10</text></g>
<rect x="77.5" y="88.5" width="299" height="59" fill="#FFFFCC" stroke="#b2b4bc" stroke-width="1"/>
<polygon points="82.9,101 122.9,101 122.9,102.9 122.2,104 83.8,104 82.9,102.9" fill="#808000"/>
<polygon points="83.8,129 122.2,129 122.9,130.1 122.9,132 82.9,132 82.9,130.1" fill="#008000"/>
<g font-size="14.8">
<text x="125.4" y="105.5" textLength="113.3" lengthAdjust="spacing">Gold: GBP per oz</text>
<text x="125.4" y="134.5" textLength="246.8" lengthAdjust="spacing">Gold price, adjusted for Sterling Index</text>
</g>
<text x="498.5" y="398.2" font-size="16.8" textLength="209" lengthAdjust="spacing"><tspan font-style="italic">Source:</tspan> BoE, BullionVault</text>
</svg>
</body></html>
